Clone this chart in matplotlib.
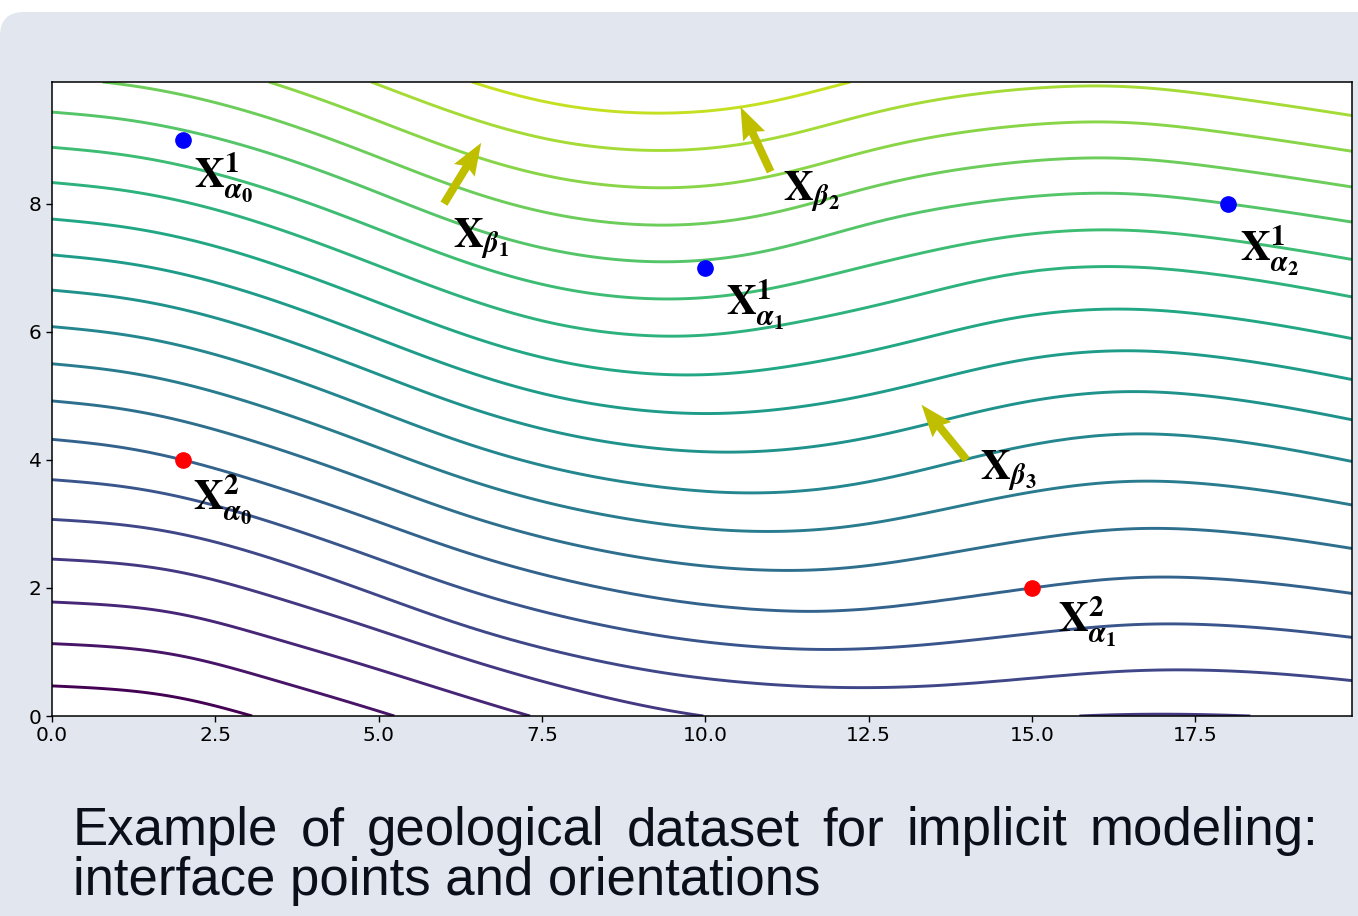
import numpy as np
import matplotlib
matplotlib.use("Agg")
import matplotlib.pyplot as plt
from matplotlib.patches import FancyBboxPatch
from matplotlib.transforms import IdentityTransform

plt.rcParams["mathtext.fontset"] = "stix"

# ---------------- data ----------------
# iso-values: height at which each iso-line meets the left border (x = 0)
levels = [0.47, 1.13, 1.78, 2.45, 3.07, 3.69, 4.32, 4.92, 5.50, 6.08, 6.65,
          7.20, 7.76, 8.33, 8.88, 9.43, 9.97, 10.52, 11.07, 11.62, 12.17, 12.72]

# how far each reference iso-line has dropped below its left-border height
prof_levels = [2.00, 3.07, 4.32, 6.08, 8.33, 9.43, 11.62]
prof_x_a = [0, 1, 2, 3.03, 4.2, 5.25, 6.7, 7.3, 8.5, 9.95, 12.2, 14.5, 15.7, 17, 18.5, 19.92]
prof_d_a = [0, 0.04, 0.14, 0.47, 0.80, 1.13, 1.60, 1.78, 2.12, 2.45, 2.64, 2.52, 2.46, 2.47, 2.50, 2.55]
prof_x_b = [0, 1, 2, 3, 4.5, 6.6, 8.5, 10, 12.2, 13.11, 15, 17, 18.5, 19.92]
prof_d_b = [0, 0.05, 0.20, 0.48, 1.00, 1.77, 2.25, 2.50, 2.64, 2.63, 2.48, 2.33, 2.38, 2.52]
prof_x_c = [0, 1, 2, 3, 4.5, 6.6, 8.5, 10, 11.8, 13.11, 15, 16.8, 18.5, 19.92]
prof_d_c = [0, 0.08, 0.30, 0.60, 1.10, 1.87, 2.35, 2.60, 2.72, 2.59, 2.32, 2.12, 2.22, 2.41]
prof_x_d = [0, 1, 2, 3, 4.5, 6.6, 8.5, 10.7, 12.22, 13.11, 15.28, 16.6, 18.3, 19.92]
prof_d_d = [0, 0.08, 0.28, 0.57, 1.12, 1.93, 2.40, 2.63, 2.51, 2.30, 1.77, 1.63, 1.80, 2.11]
prof_x_e = [0, 1, 2, 3, 4.5, 6.55, 8, 9.6, 12.22, 15.28, 16.3, 18, 19.92]
prof_d_e = [0, 0.08, 0.27, 0.55, 1.10, 1.90, 2.30, 2.44, 2.02, 1.32, 1.28, 1.45, 1.79]
prof_x_f = [0, 1, 2, 3, 4.5, 6.55, 8, 9.4, 11, 12.22, 13.44, 15.28, 16.2, 18, 19.92]
prof_d_f = [0, 0.07, 0.26, 0.52, 1.05, 1.88, 2.25, 2.38, 2.20, 1.80, 1.51, 1.28, 1.23, 1.43, 1.72]
prof_x_g = [0, 1, 2, 3, 4.5, 6.55, 8, 9.4, 11, 12.22, 13.44, 15.28, 16.2, 18, 19.92]
prof_d_g = [0, 0.06, 0.22, 0.48, 1.00, 1.78, 2.15, 2.24, 2.07, 1.70, 1.42, 1.22, 1.19, 1.40, 1.69]

# interface points (two formations) and orientation measurements
blue_x = [2, 10, 18]
blue_y = [9, 7, 8]
red_x = [2, 15]
red_y = [4, 2]
arrow_x = [6, 11, 14]
arrow_y = [8, 8.5, 4]
arrow_u = [0.57, -0.46, -0.69]
arrow_v = [0.95, 1.01, 0.86]

label_text = [r"$\mathbf{X}^{\mathbf{1}}_{\boldsymbol{\alpha}_{\mathbf{0}}}$",
              r"$\mathbf{X}^{\mathbf{1}}_{\boldsymbol{\alpha}_{\mathbf{1}}}$",
              r"$\mathbf{X}^{\mathbf{1}}_{\boldsymbol{\alpha}_{\mathbf{2}}}$",
              r"$\mathbf{X}^{\mathbf{2}}_{\boldsymbol{\alpha}_{\mathbf{0}}}$",
              r"$\mathbf{X}^{\mathbf{2}}_{\boldsymbol{\alpha}_{\mathbf{1}}}$",
              r"$\mathbf{X}_{\boldsymbol{\beta}_{\mathbf{1}}}$",
              r"$\mathbf{X}_{\boldsymbol{\beta}_{\mathbf{2}}}$",
              r"$\mathbf{X}_{\boldsymbol{\beta}_{\mathbf{3}}}$"]

caption_line1 = "Example of geological dataset for implicit modeling:"
caption_line2 = "interface points and orientations"


# ---------------- scalar field ----------------
def pchip(xk, yk, xq):
    xk = np.asarray(xk, float)
    yk = np.asarray(yk, float)
    h = np.diff(xk)
    delta = np.diff(yk) / h
    n = len(xk)
    d = np.zeros(n)
    for k in range(1, n - 1):
        if delta[k - 1] * delta[k] > 0:
            w1 = 2 * h[k] + h[k - 1]
            w2 = h[k] + 2 * h[k - 1]
            d[k] = (w1 + w2) / (w1 / delta[k - 1] + w2 / delta[k])

    def end(h0, h1, d0, d1):
        dd = ((2 * h0 + h1) * d0 - h0 * d1) / (h0 + h1)
        if np.sign(dd) != np.sign(d0):
            dd = 0.0
        elif np.sign(d0) != np.sign(d1) and abs(dd) > abs(3 * d0):
            dd = 3 * d0
        return dd

    d[0] = end(h[0], h[1], delta[0], delta[1])
    d[-1] = end(h[-1], h[-2], delta[-1], delta[-2])
    idx = np.clip(np.searchsorted(xk, xq) - 1, 0, n - 2)
    t = (xq - xk[idx]) / h[idx]
    h00 = 2 * t**3 - 3 * t**2 + 1
    h10 = t**3 - 2 * t**2 + t
    h01 = -2 * t**3 + 3 * t**2
    h11 = t**3 - t**2
    return (h00 * yk[idx] + h10 * h[idx] * d[idx]
            + h01 * yk[idx + 1] + h11 * h[idx] * d[idx + 1])


def smooth(v, dx, sigma):
    r = int(np.ceil(3 * sigma / dx))
    k = np.exp(-0.5 * (np.arange(-r, r + 1) * dx / sigma) ** 2)
    k /= k.sum()
    vp = np.pad(v, r, mode="reflect", reflect_type="odd")
    return np.convolve(vp, k, mode="valid")


gx = np.linspace(0, 19.9, 400)
gy = np.linspace(0, 9.9, 250)
X, Y = np.meshgrid(gx, gy)
profiles = [(prof_x_a, prof_d_a), (prof_x_b, prof_d_b), (prof_x_c, prof_d_c),
            (prof_x_d, prof_d_d), (prof_x_e, prof_d_e), (prof_x_f, prof_d_f),
            (prof_x_g, prof_d_g)]
dxg = gx[1] - gx[0]
P = np.array([smooth(pchip(px, pd, gx), dxg, 0.75) for px, pd in profiles])
Ls = np.array(prof_levels)
cols = np.broadcast_to(np.arange(gx.size), X.shape)


def drop(L):
    Lc = np.clip(L, Ls[0], Ls[-1])
    i = np.clip(np.searchsorted(Ls, Lc, side="right") - 1, 0, len(Ls) - 2)
    t = (Lc - Ls[i]) / (Ls[i + 1] - Ls[i])
    return (1 - t) * P[i, cols] + t * P[i + 1, cols]


Z = Y + P[3][None, :]
for _ in range(60):
    Z = Y + drop(Z)

# ---------------- figure ----------------
W, H = 1358, 916
fig = plt.figure(figsize=(W / 100, H / 100), dpi=100)
fig.patch.set_facecolor("white")
panel = FancyBboxPatch((0, -60), W + 60, H - 12 + 60,
                       boxstyle="round,pad=0,rounding_size=24",
                       transform=IdentityTransform(), facecolor="#e2e6ee",
                       edgecolor="none", zorder=-10)
fig.patches.append(panel)

ax = fig.add_axes([52 / W, (H - 716) / H, 1300 / W, (716 - 82) / H])
ax.set_zorder(1)
ax.set_facecolor("white")
ax.contour(X, Y, Z, levels=levels, cmap="viridis", linewidths=2.1, zorder=2)
ax.quiver(arrow_x, arrow_y, arrow_u, arrow_v, color="y", angles="xy",
          scale_units="xy", scale=1, width=0.0062, headwidth=3.0,
          headlength=4.0, headaxislength=3.6, zorder=3)
ax.plot(blue_x, blue_y, "o", color="blue", ms=11, zorder=4)
ax.plot(red_x, red_y, "o", color="red", ms=11, zorder=4)

label_pos = [(2.17, 8.25), (10.32, 6.27), (18.19, 7.11), (2.16, 3.23),
             (15.40, 1.31), (6.14, 7.32), (11.19, 8.06), (14.20, 3.70)]
for (lx, ly), s in zip(label_pos, label_text):
    ax.text(lx, ly, s, fontsize=30, ha="left", va="baseline", color="black",
            zorder=5)

ax.set_xlim(0, 19.9)
ax.set_ylim(0, 9.9)
ax.set_xticks([0, 2.5, 5, 7.5, 10, 12.5, 15, 17.5])
ax.set_yticks([0, 2, 4, 6, 8])
ax.tick_params(labelsize=14.5, length=4, width=1)
for sp in ax.spines.values():
    sp.set_linewidth(1.1)

# caption (first line justified)
cap_kw = dict(fontsize=38, family="Liberation Sans", color="#0b0f19",
              va="baseline", ha="left")
renderer = fig.canvas.get_renderer()
words = caption_line1.split()
texts = [fig.text(0, 0, w_, **cap_kw) for w_ in words]
widths = [t.get_window_extent(renderer=renderer).width for t in texts]
x0, x1 = 73, 1318
gap = (x1 - x0 - sum(widths)) / (len(words) - 1)
xpos = x0
for t, wd in zip(texts, widths):
    t.set_position((xpos / W, 71 / H))
    xpos += wd + gap
fig.text(x0 / W, 21 / H, caption_line2, **cap_kw)

fig.savefig("out.png", dpi=100)
